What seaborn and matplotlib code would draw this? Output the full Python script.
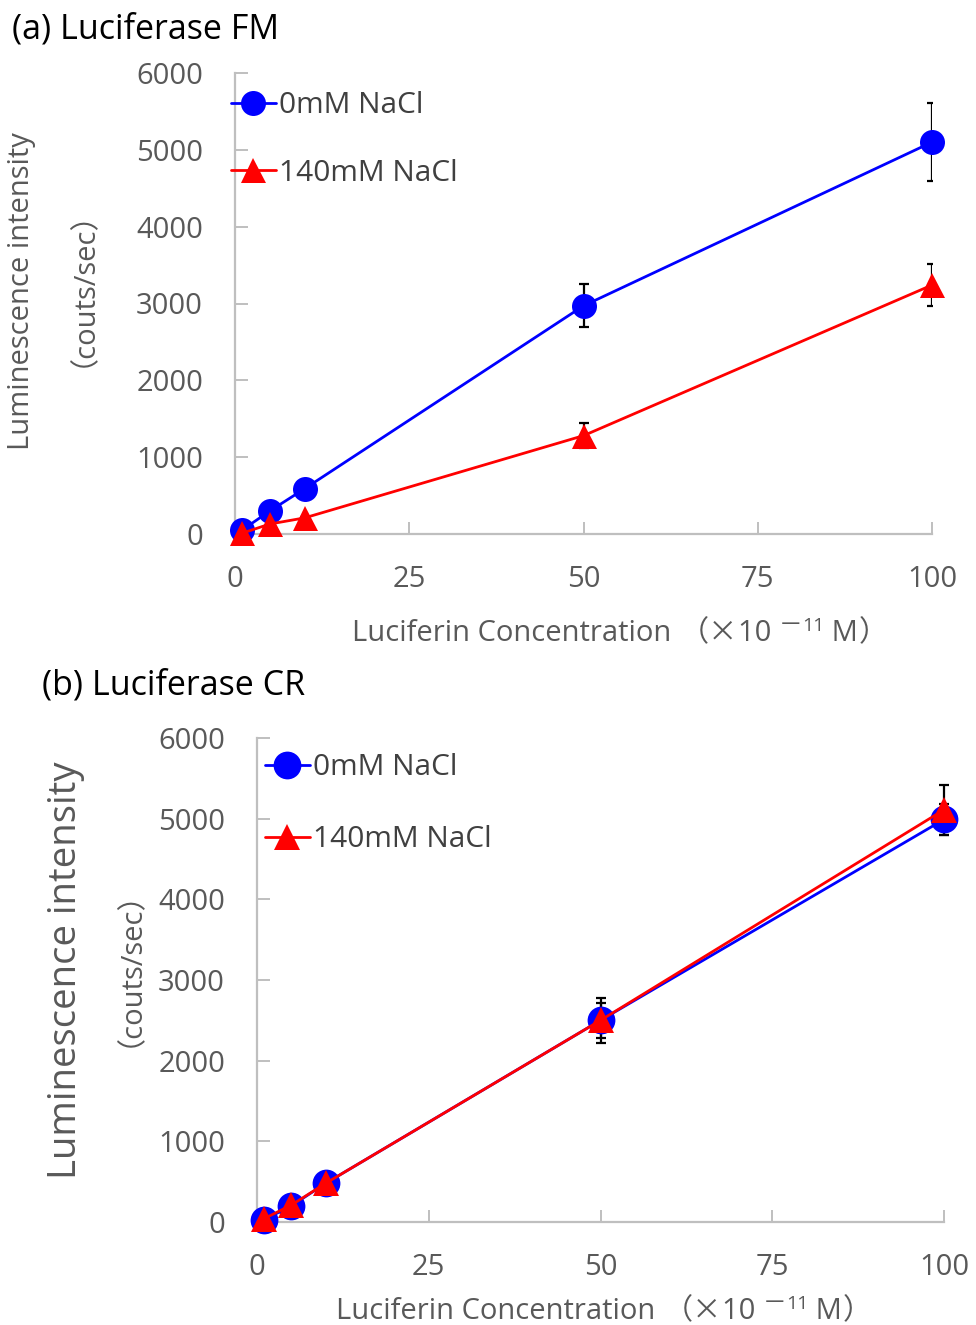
import matplotlib
matplotlib.use("Agg")
import matplotlib.pyplot as plt
import seaborn as sns
import pandas as pd

# Luciferin concentration (x10^-11 M)
conc = [1, 5, 10, 50, 100]
series_names = ["0mM NaCl", "140mM NaCl"]

# (a) Luciferase FM
fm_0mM = [50, 300, 590, 2970, 5100]
fm_0mM_err = [20, 20, 20, 280, 510]
fm_140mM = [10, 130, 210, 1280, 3240]
fm_140mM_err = [10, 10, 10, 165, 270]

# (b) Luciferase CR
cr_0mM = [25, 200, 480, 2500, 4990]
cr_0mM_err = [20, 20, 20, 275, 190]
cr_140mM = [40, 210, 480, 2500, 5110]
cr_140mM_err = [20, 20, 20, 220, 310]

x_ticks = [0, 25, 50, 75, 100]
y_ticks = [0, 1000, 2000, 3000, 4000, 5000, 6000]

sns.set_style("white")
FONT = ["Open Sans", "Noto Sans CJK JP", "DejaVu Sans"]
CJK = ["Noto Sans CJK JP", "DejaVu Sans"]
plt.rcParams["font.family"] = FONT

W, H = 976, 1325
fig = plt.figure(figsize=(W / 100, H / 100), dpi=100)

GRAY_AX = "#bfbfbf"
GRAY_TXT = "#595959"
BLUE = "#0000ff"
RED = "#ff0000"
TICK_SIZE = 21


def px_axes(left, top, right, bottom):
    return fig.add_axes([left / W, 1 - bottom / H, (right - left) / W, (bottom - top) / H])


def draw_panel(ax, y0, e0, y1, e1, msize_c, msize_t, leg_xy, leg_space, clip_err):
    df = pd.DataFrame({
        "conc": conc * 2,
        "value": y0 + y1,
        "err": e0 + e1,
        "series": [series_names[0]] * len(conc) + [series_names[1]] * len(conc),
    })
    for name, color, marker, ms in [(series_names[0], BLUE, "o", msize_c),
                                     (series_names[1], RED, "^", msize_t)]:
        sub = df[df["series"] == name]
        eb = ax.errorbar(sub["conc"], sub["value"], yerr=sub["err"], fmt="none",
                         ecolor="black", elinewidth=1.6, capsize=3.8, capthick=1.6, zorder=2)
        for art in eb.lines[1] + eb.lines[2]:
            art.set_clip_on(clip_err)
        sns.lineplot(data=sub, x="conc", y="value", ax=ax, color=color, marker=marker,
                     markersize=ms, markeredgecolor=color, markeredgewidth=0,
                     linewidth=2.0, label=name, zorder=3, clip_on=False)
    ax.set_xlim(0, 100)
    ax.set_ylim(0, 6000)
    ax.set_xticks(x_ticks)
    ax.set_yticks(y_ticks)
    ax.set_xlabel("")
    ax.set_ylabel("")
    for s in ["top", "right"]:
        ax.spines[s].set_visible(False)
    for s in ["left", "bottom"]:
        ax.spines[s].set_color(GRAY_AX)
        ax.spines[s].set_linewidth(1.6)
    ax.tick_params(axis="both", direction="in", length=9, width=1.4, color=GRAY_AX,
                   labelsize=TICK_SIZE, labelcolor=GRAY_TXT)
    ax.tick_params(axis="y", pad=23)
    ax.tick_params(axis="x", pad=22)
    ax.tick_params(axis="both", which="both", left=True, bottom=True)
    leg = ax.legend(loc="upper left", bbox_to_anchor=(leg_xy[0] / W, 1 - leg_xy[1] / H),
                    bbox_transform=fig.transFigure, frameon=False, fontsize=21.5,
                    handlelength=1.5, handletextpad=0.1, labelspacing=leg_space,
                    borderpad=0, borderaxespad=0, numpoints=1)
    for t in leg.get_texts():
        t.set_color("#404040")


def label_pieces(cx, cy, parts):
    """Draw a horizontal label made of pieces (text, size, raise_px, family), centred at (cx, cy) px."""
    renderer = fig.canvas.get_renderer()
    texts, widths = [], []
    for txt, size, dy, fam in parts:
        t = fig.text(0, 0, txt, fontsize=size, color=GRAY_TXT, va="baseline", ha="left",
                     family=fam)
        bb = t.get_window_extent(renderer)
        texts.append((t, dy))
        widths.append(bb.width)
    x = cx - sum(widths) / 2
    for (t, dy), w in zip(texts, widths):
        t.set_position((x / W, 1 - (cy - dy) / H))
        x += w


XLABEL = [("Luciferin Concentration ", 21, 0, FONT),
          ("（×", 21, 0, CJK),
          ("10 ", 21, 0, FONT),
          ("－", 17, 9, CJK),
          ("11", 14, 10, FONT),
          (" M", 21, 0, FONT),
          ("）", 21, 0, CJK)]

# ---- panel (a)
ax_a = px_axes(235, 73, 932, 534)
draw_panel(ax_a, fm_0mM, fm_0mM_err, fm_140mM, fm_140mM_err, 18, 18, (231, 91), 1.3, True)
fig.text(12 / W, 1 - 30 / H, "(a) Luciferase FM", fontsize=24.5, color="black",
         va="center", ha="left")
fig.text(22 / W, 1 - 291 / H, "Luminescence intensity", fontsize=21, color=GRAY_TXT,
         rotation=90, va="center", ha="center")
fig.text(68 / W, 1 - 274 / H, "（couts/sec）", fontsize=21, color=GRAY_TXT,
         rotation=90, va="center", ha="center", family=FONT)
label_pieces(620, 641, XLABEL)

# ---- panel (b)
ax_b = px_axes(257, 738, 944, 1222)
draw_panel(ax_b, cr_0mM, cr_0mM_err, cr_140mM, cr_140mM_err, 20, 19, (265, 753), 1.45, False)
fig.text(42 / W, 1 - 685 / H, "(b) Luciferase CR", fontsize=24.5, color="black",
         va="center", ha="left")
fig.text(66 / W, 1 - 970 / H, "Luminescence intensity", fontsize=27.5, color=GRAY_TXT,
         rotation=90, va="center", ha="center")
fig.text(115 / W, 1 - 954 / H, "（couts/sec）", fontsize=21, color=GRAY_TXT,
         rotation=90, va="center", ha="center", family=FONT)
label_pieces(604, 1319, XLABEL)

fig.savefig("out.png", dpi=100)
